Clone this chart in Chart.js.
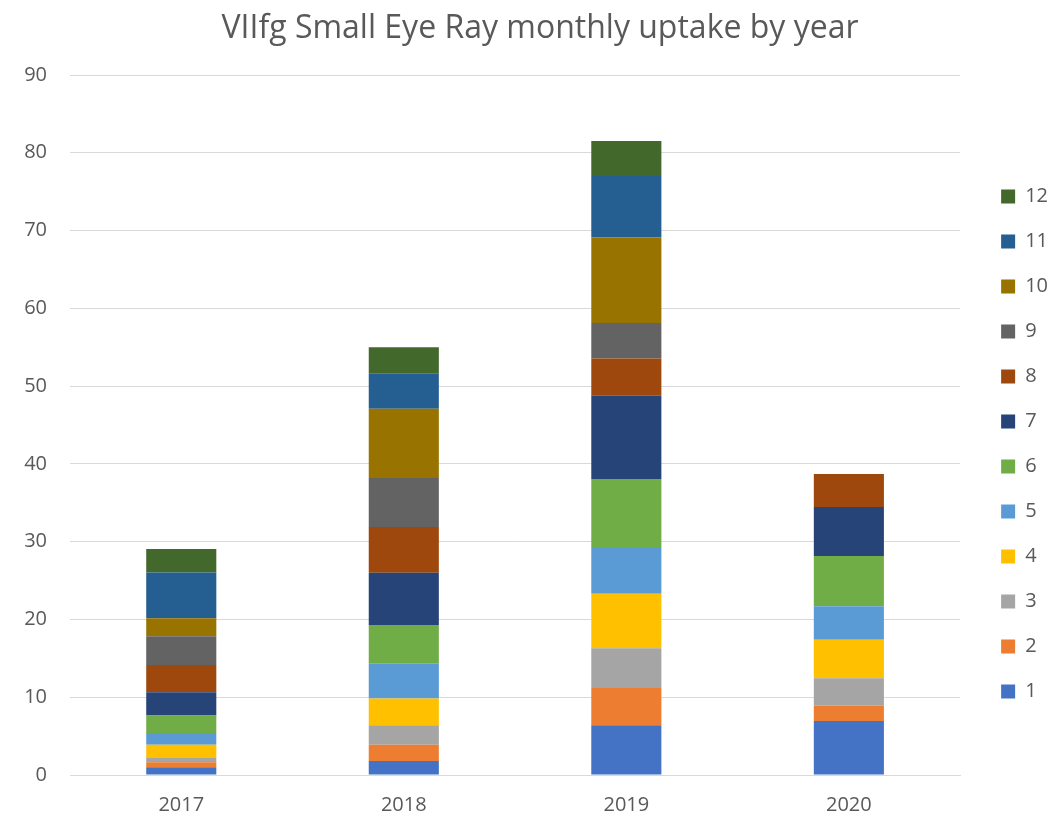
<!DOCTYPE html>
<html>
<head>
<meta charset="utf-8">
<script src="https://cdn.jsdelivr.net/npm/chart.js@4/dist/chart.umd.min.js"></script>
<style>
    body { margin: 0; background: #fff; }
    #wrap { width: 1064px; height: 819px; }
</style>
</head>
<body>
<div id="wrap"><canvas id="uptake" width="1064" height="819"></canvas></div>
<script>
// years on the x axis
const years = ['2017', '2018', '2019', '2020'];
const months = ['1', '2', '3', '4', '5', '6', '7', '8', '9', '10', '11', '12'];

// uptake per month, one array per month, one value per year
const m1 = [1.0, 1.8, 6.4, 6.95];
const m2 = [0.65, 2.1, 4.8, 2.0];
const m3 = [0.55, 2.5, 5.1, 3.5];
const m4 = [1.7, 3.45, 7.0, 4.95];
const m5 = [1.5, 4.45, 6.0, 4.3];
const m6 = [2.25, 5.0, 8.75, 6.45];
const m7 = [3.0, 6.7, 10.7, 6.3];
const m8 = [3.5, 5.9, 4.8, 4.25];
const m9 = [3.7, 6.3, 4.55, null];
const m10 = [2.3, 8.9, 11.0, null];
const m11 = [5.9, 4.5, 7.9, null];
const m12 = [3.0, 3.4, 4.5, null];

const yTicks = [0, 10, 20, 30, 40, 50, 60, 70, 80, 90];

const monthData = [m1, m2, m3, m4, m5, m6, m7, m8, m9, m10, m11, m12];
const colours = ['#4472C4', '#ED7D31', '#A5A5A5', '#FFC000', '#5B9BD5', '#70AD47',
                 '#264478', '#9E480E', '#636363', '#997300', '#255E91', '#43682B'];

const textGrey = '#595959';
const font = 'Open Sans';

// shift the legend and title blocks a little from where the layout puts them
const blockNudge = {
    id: 'blockNudge',
    afterLayout: function (chart) {
        const lg = chart.legend;
        lg.left += 16;
        lg.right += 16;
        lg.top += 19;
        lg.bottom += 19;
        const tb = chart.titleBlock;
        tb.left += 8;
        tb.right += 8;
    }
};

var drawChart = function (id) {
    const ctx = document.getElementById(id);
    var datasets = months.map(function (m, i) {
        return {
            label: m,
            data: monthData[i],
            backgroundColor: colours[i],
            borderWidth: 0,
            barPercentage: 0.315,
            categoryPercentage: 1.0,
        };
    });

    return new Chart(ctx, {
        type: 'bar',
        data: {
            labels: years,
            datasets: datasets,
        },
        plugins: [blockNudge],
        options: {
            responsive: false,
            animation: false,
            layout: {
                padding: { left: 22, right: 22, top: 0, bottom: 0 }
            },
            plugins: {
                title: {
                    display: true,
                    text: 'VIIfg Small Eye Ray monthly uptake by year',
                    color: textGrey,
                    font: { family: font, size: 32, weight: 'normal' },
                    padding: { top: 10, bottom: 26.6 },
                },
                legend: {
                    position: 'right',
                    reverse: true,
                    fullSize: false,
                    labels: {
                        color: textGrey,
                        font: { family: font, size: 20 },
                        boxWidth: 14,
                        boxHeight: 14,
                        padding: 25,
                    },
                },
                tooltip: { enabled: false },
            },
            scales: {
                x: {
                    stacked: true,
                    grid: { display: false, drawTicks: false },
                    border: { display: true, color: '#d9d9d9', width: 1 },
                    ticks: {
                        color: textGrey,
                        font: { family: font, size: 20 },
                        padding: 18,
                    },
                    afterFit: function (axis) { axis.height = 44; },
                },
                y: {
                    stacked: true,
                    min: 0,
                    max: 90,
                    afterBuildTicks: function (axis) {
                        axis.ticks = yTicks.map(function (v) { return { value: v }; });
                    },
                    grid: { color: '#d9d9d9', lineWidth: 1, drawTicks: false },
                    border: { display: false },
                    ticks: {
                        color: textGrey,
                        font: { family: font, size: 20 },
                        padding: 23,
                    },
                    afterFit: function (axis) { axis.width = 48; },
                },
            },
        },
    });
}

drawChart('uptake');
</script>
</body>
</html>
